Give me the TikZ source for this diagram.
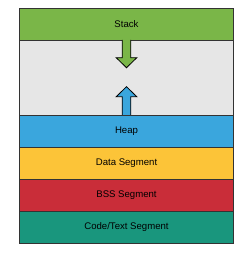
\documentclass[tikz,border=0pt]{standalone}
\usepackage{fontspec}
\setmainfont{Liberation Sans}
\definecolor{cgreen}{HTML}{7AB648}
\definecolor{cgray}{HTML}{E6E6E6}
\definecolor{cblue}{HTML}{3AA6DD}
\definecolor{cyellow}{HTML}{FCC438}
\definecolor{cred}{HTML}{C92D39}
\definecolor{cteal}{HTML}{19967D}
\definecolor{cline}{HTML}{333333}
\begin{document}
\begin{tikzpicture}[x=1pt,y=-1pt,
  seg/.style={draw=cline,line width=0.8pt,font=\fontsize{9.6}{11}\selectfont,text=black,minimum width=214pt,minimum height=32pt,inner sep=0pt},
  blockarrow/.style={draw=black,line width=0.8pt,line join=miter}]
\useasboundingbox (0,0) rectangle (245,253);
\node[seg,fill=cgray,minimum height=75pt] (free) at (126.5,77.5) {};
\node[seg,fill=cgreen,minimum height=31.5pt] (stack) at (126.5,24.25) {Stack};
\node[seg,fill=cblue] (heap) at (126.5,131) {Heap};
\node[seg,fill=cyellow] (data) at (126.5,163) {Data Segment};
\node[seg,fill=cred] (bss) at (126.5,195) {BSS Segment};
\node[seg,fill=cteal] (code) at (126.5,227) {Code/Text Segment};
\draw[blockarrow,fill=cgreen] (122.2,40) -- (122.2,57.7) -- (116.2,57.7) -- (126.5,67.7) -- (136.8,57.7) -- (130.8,57.7) -- (130.8,40);
\draw[blockarrow,fill=cblue] (122.2,115) -- (122.2,96.7) -- (116.2,96.7) -- (126.5,86.7) -- (136.8,96.7) -- (130.8,96.7) -- (130.8,115);
\end{tikzpicture}
\end{document}
